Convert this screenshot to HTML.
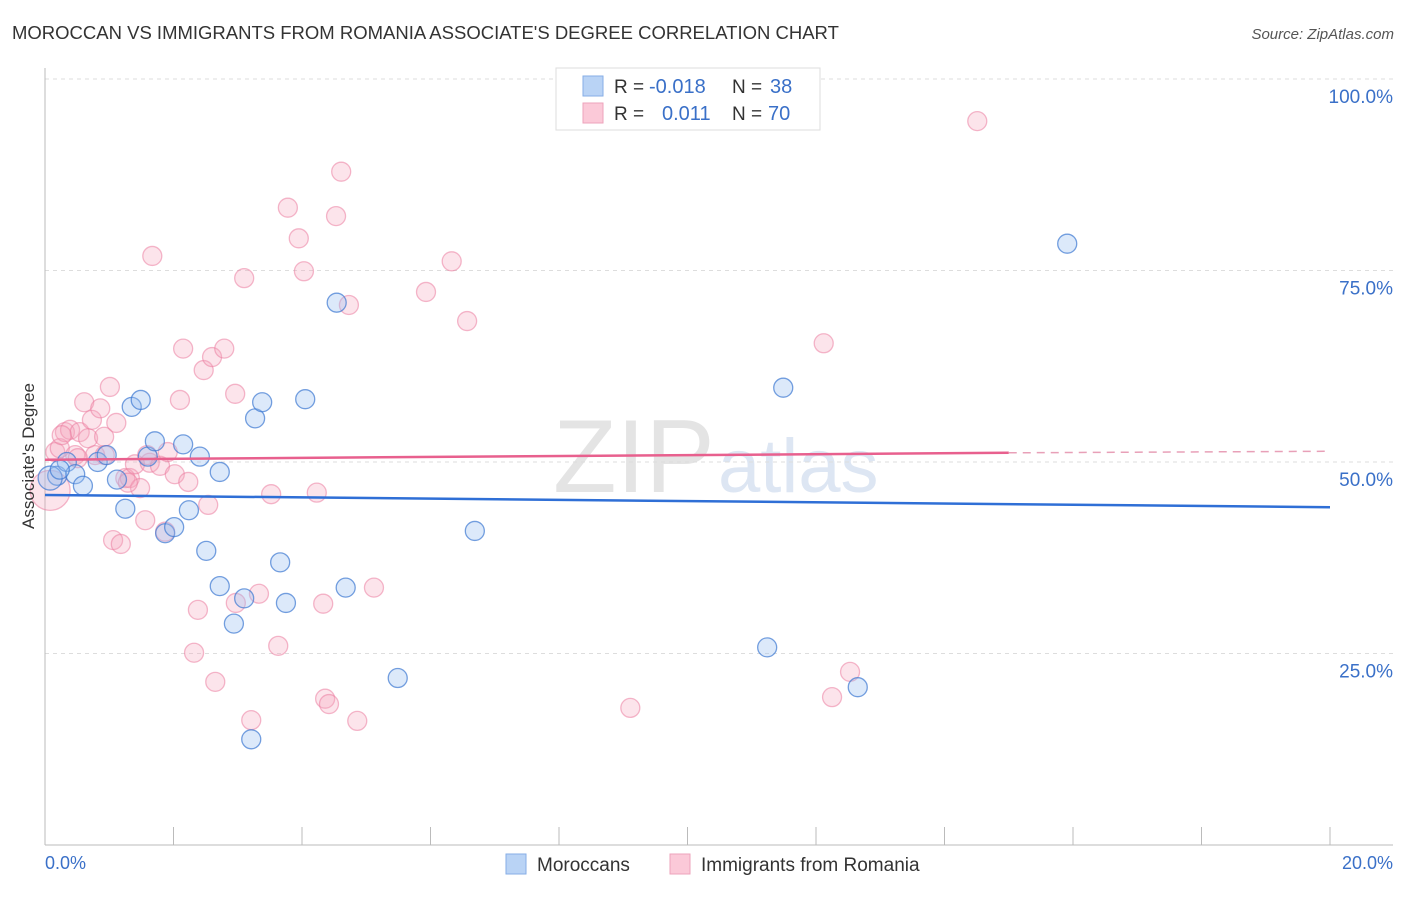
<!DOCTYPE html>
<html><head><meta charset="utf-8"><style>
body{margin:0;background:#fff;font-family:"Liberation Sans",sans-serif;}
svg text{font-family:"Liberation Sans",sans-serif;}
</style></head><body>
<svg id="chart" width="1406" height="892" xmlns="http://www.w3.org/2000/svg">
<text x="12" y="39" font-size="18.5" fill="#333">MOROCCAN VS IMMIGRANTS FROM ROMANIA ASSOCIATE'S DEGREE CORRELATION CHART</text>
<text x="1394" y="39" font-size="15" fill="#555" text-anchor="end" font-style="italic">Source: ZipAtlas.com</text>
<text x="553" y="492" font-size="104" fill="#e4e4e4" font-family="Liberation Serif">ZIP</text>
<text x="718" y="492" font-size="76" fill="#dde6f3">atlas</text>
<g id="grid"></g>
<g id="axes"></g>
<g id="marks"></g>
<text transform="translate(34,456) rotate(-90)" font-size="17" fill="#333" text-anchor="middle">Associate's Degree</text>
<text x="45" y="869" font-size="18" fill="#3a70c8">0.0%</text>
<text x="1393" y="869" font-size="18" fill="#3a70c8" text-anchor="end">20.0%</text>
<g>
<rect x="556" y="68" width="264" height="62" fill="#fff" stroke="#ddd"/>
<rect x="583" y="76" width="20" height="20" fill="#b9d3f5" stroke="#86aee6"/>
<rect x="583" y="103" width="20" height="20" fill="#fbc9d8" stroke="#eea3bb"/>
<text x="614" y="93" font-size="19" fill="#333">R = </text><text x="649" y="93" font-size="20" fill="#3a70c8">-0.018</text>
<text x="732" y="93" font-size="19" fill="#333">N = </text><text x="770" y="93" font-size="20" fill="#3a70c8">38</text>
<text x="614" y="120" font-size="19" fill="#333">R = </text><text x="662" y="120" font-size="20" fill="#3a70c8">0.011</text>
<text x="732" y="120" font-size="19" fill="#333">N = </text><text x="768" y="120" font-size="20" fill="#3a70c8">70</text>
</g>
<g>
<rect x="506" y="854" width="20" height="20" fill="#b9d3f5" stroke="#86aee6"/>
<text x="537" y="871" font-size="19" fill="#333">Moroccans</text>
<rect x="670" y="854" width="20" height="20" fill="#fbc9d8" stroke="#eea3bb"/>
<text x="701" y="871" font-size="19" fill="#333">Immigrants from Romania</text>
</g>
</svg>
<script>
const blueX=[0.19,0.34,0.47,0.59,0.82,0.96,1.12,1.25,1.35,1.49,1.60,1.71,1.87,2.01,2.15,2.24,2.41,2.51,2.72,2.72,2.94,3.10,3.21,3.27,3.38,3.66,3.75,4.05,4.54,4.68,5.49,6.69,11.24,11.49,12.65,15.91,0.08,0.23];
const blueY=[48.2,50.0,48.4,46.9,50.0,50.9,47.7,43.9,57.2,58.1,50.7,52.7,40.7,41.5,52.3,43.7,50.7,38.4,48.7,33.8,28.9,32.2,13.8,55.7,57.8,36.9,31.6,58.2,70.8,33.6,21.8,41.0,25.8,59.7,20.6,78.5,47.9,49.0];
const pinkX=[0.08,0.16,0.23,0.31,0.39,0.47,0.54,0.61,0.67,0.73,0.78,0.86,0.92,1.01,1.06,1.11,1.18,1.25,1.32,1.40,1.48,1.56,1.63,1.67,1.79,1.87,1.91,2.02,2.10,2.15,2.23,2.38,2.32,2.47,2.54,2.60,2.65,2.79,2.96,2.97,3.10,3.21,3.33,3.52,3.63,3.78,3.95,4.03,4.23,4.33,4.36,4.42,4.53,4.61,4.73,4.86,5.12,5.93,6.33,6.57,9.11,12.12,12.25,12.53,14.51,0.26,0.51,1.59,1.29,0.93];
const pinkY=[46.3,51.3,51.8,53.9,54.2,50.9,53.9,57.8,53.1,55.5,50.9,57.0,53.3,59.8,39.8,55.1,39.3,47.9,47.9,49.7,46.6,42.4,49.9,76.9,49.5,40.9,51.3,48.4,58.1,64.8,47.4,30.7,25.1,62.0,44.4,63.7,21.3,64.8,58.9,31.6,74.0,16.3,32.8,45.8,26.0,83.2,79.2,74.9,46.0,31.5,19.1,18.4,82.1,87.9,70.5,16.2,33.6,72.2,76.2,68.4,17.9,65.5,19.3,22.6,94.5,53.5,50.5,50.9,47.3,50.9];
const yTicks=[25,50,75,100];
const yTickLabels=["25.0%","50.0%","75.0%","100.0%"];
const xTicks=[0,2,4,6,8,10,12,14,16,18,20];
const blueTrend=[45.7,44.1];
const pinkTrend=[50.3,51.2,51.4];
const pinkSolidEnd=15;
const NS="http://www.w3.org/2000/svg";
const X=v=>45+v*64.25, Y=v=>845-v*7.66;
function mk(tag,attrs,parent){const e=document.createElementNS(NS,tag);for(const k in attrs)e.setAttribute(k,attrs[k]);document.getElementById(parent).appendChild(e);return e;}
yTicks.forEach((t,i)=>{
 const l=mk('line',{x1:45,x2:1393,y1:Y(t),y2:Y(t),stroke:'#ddd','stroke-dasharray':'4,4'},'grid');
 
 
 const tx=mk('text',{x:1393,y:Y(t)+24,'font-size':19,fill:'#3a70c8','text-anchor':'end'},'grid');
 tx.textContent=yTickLabels[i];
 
 
});
const ya=mk('line',{x1:45,x2:45,y1:68,y2:845,stroke:'#bbb'},'axes');


const xa=mk('line',{x1:45,x2:1393,y1:845,y2:845,stroke:'#bbb'},'axes');


xTicks.forEach(t=>{
 const l=mk('line',{x1:X(t),x2:X(t),y1:827,y2:845,stroke:'#bbb'},'axes');
 
 
});
function dot(x,y,r,fill,stroke,name){
 const c=mk('circle',{cx:X(x),cy:Y(y),r:r,fill:fill,stroke:stroke,'stroke-width':1.3},'marks');
 
 
}
pinkX.forEach((x,i)=>dot(x,pinkY[i],i===0?20:9.5,'rgba(245,165,190,0.3)','rgba(235,125,160,0.55)','point-romania'));
blueX.forEach((x,i)=>dot(x,blueY[i],i===36?12:9.5,'rgba(155,192,240,0.35)','rgba(60,120,210,0.7)','point-moroccans'));
const bl=mk('line',{x1:X(0),x2:X(20),y1:Y(blueTrend[0]),y2:Y(blueTrend[1]),stroke:'#2f6fd6','stroke-width':2.5},'marks');


const pl=mk('line',{x1:X(0),x2:X(pinkSolidEnd),y1:Y(pinkTrend[0]),y2:Y(pinkTrend[1]),stroke:'#e8608e','stroke-width':2.5},'marks');


const pd=mk('line',{x1:X(pinkSolidEnd),x2:X(20),y1:Y(pinkTrend[1]),y2:Y(pinkTrend[2]),stroke:'#e8a0b8','stroke-width':1.5,'stroke-dasharray':'8,6'},'marks');


</script>
</body></html>
